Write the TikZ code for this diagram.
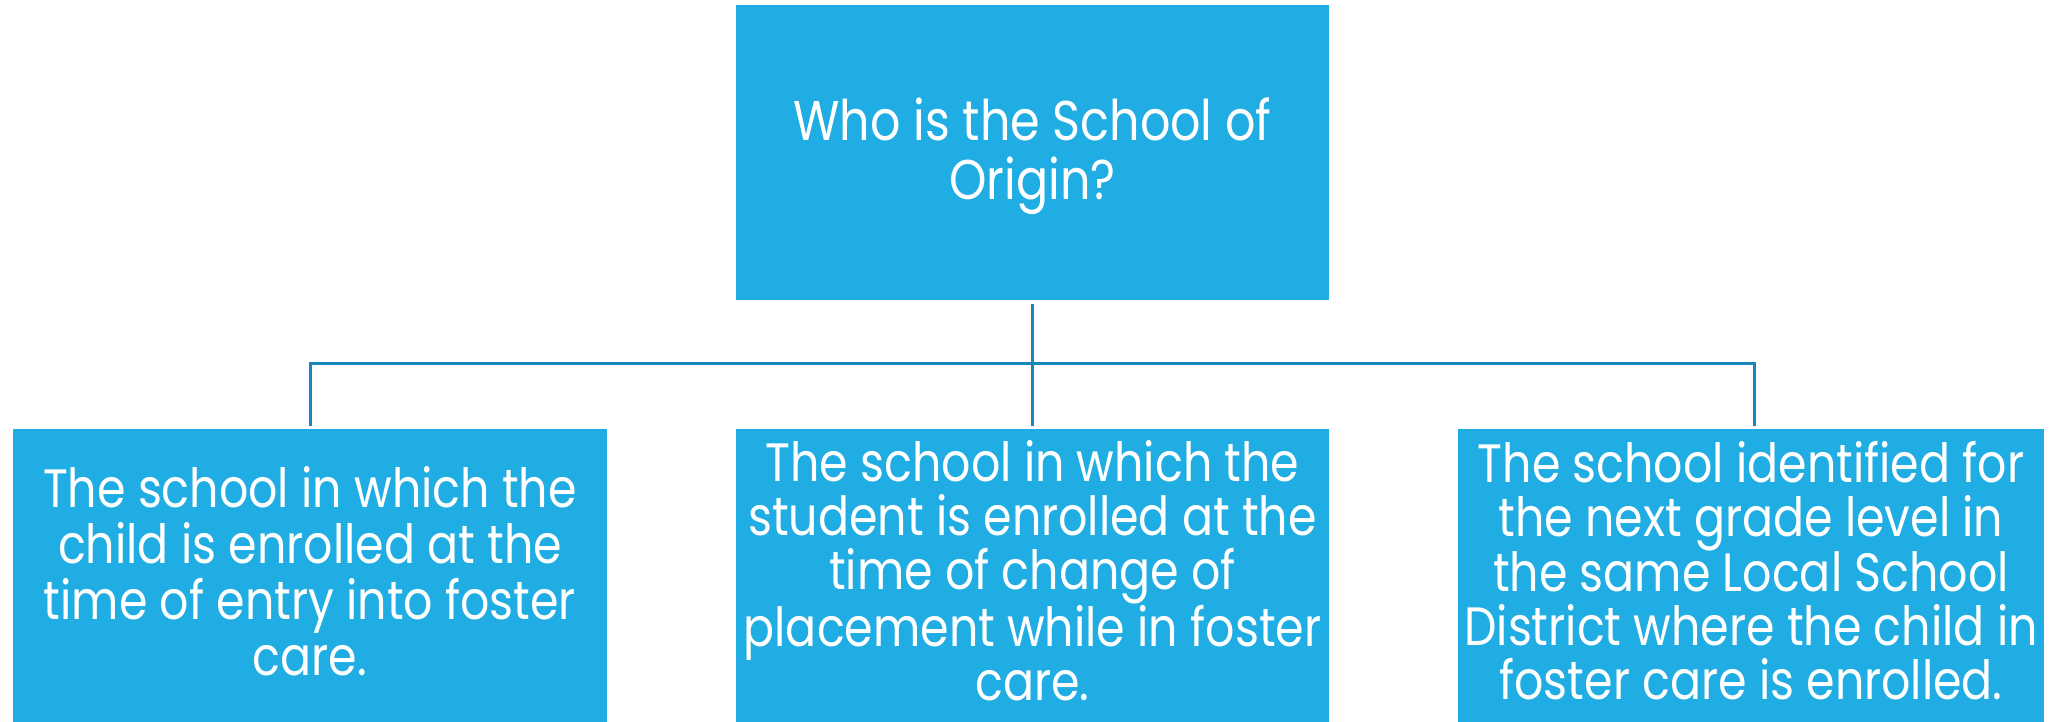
\documentclass[tikz,border=0pt]{standalone}
\usepackage{fontspec}
\setmainfont[FakeStretch=0.85]{Poppins}
\definecolor{boxblue}{RGB}{31,173,227}
\definecolor{linkblue}{RGB}{25,135,183}
\begin{document}
\begin{tikzpicture}[x=1pt,y=1pt,
  box/.style={rectangle,fill=boxblue,inner sep=0pt},
  txt/.style={inner sep=0pt,text=white,align=center},
  conn/.style={draw=linkblue,line width=3pt}]
\useasboundingbox (0,0) rectangle (2050,722);
\node[box,minimum width=593pt,minimum height=295pt] (top) at (1032.5,569.5) {};
\node[box,minimum width=594pt,minimum height=293pt] (left) at (310,146.5) {};
\node[box,minimum width=593pt,minimum height=293pt] (mid) at (1032.5,146.5) {};
\node[box,minimum width=586pt,minimum height=293pt] (right) at (1751,146.5) {};
\node[txt,font=\fontsize{56}{59}\selectfont] (topT) at ([yshift=-4pt]top.center) {Who is the School of\\Origin?};
\node[txt,font=\fontsize{54}{56}\selectfont] (leftT) at ([yshift=4pt]left.center) {The school in which the\\child is enrolled at the\\time of entry into foster\\care.};
\node[txt,font=\fontsize{54}{54}\selectfont] (midT) at ([yshift=5pt]mid.center) {The school in which the\\student is enrolled at the\\time of change of\\placement while in foster\\care.};
\node[txt,font=\fontsize{54}{54}\selectfont] (rightT) at ([yshift=5pt]right.center) {The school identified for\\the next grade level in\\the same Local School\\District where the child in\\foster care is enrolled.};
\coordinate (bus) at (1032.5,358);
\draw[conn] ([yshift=-4pt]top.south) -- ([yshift=3pt]mid.north);
\draw[conn] ([yshift=3pt]left.north) |- (bus) -| ([xshift=3pt,yshift=3pt]right.north);
\end{tikzpicture}
\end{document}
